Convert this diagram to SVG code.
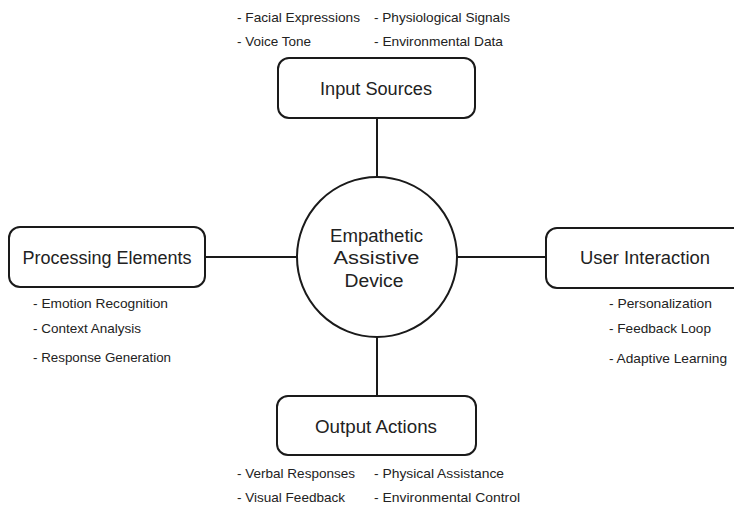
<svg xmlns="http://www.w3.org/2000/svg" width="734" height="506" viewBox="0 0 734 506">
<style>
.box{fill:#fff;stroke:#1a1a1a;stroke-width:2}
.con{stroke:#1a1a1a;stroke-width:2;fill:none}
.lbl{font-family:"Liberation Sans",Arial,sans-serif;font-size:17.5px;fill:#222;text-anchor:middle}
.bul{font-family:"Liberation Sans",Arial,sans-serif;font-size:13px;fill:#222}
</style>
<rect width="734" height="506" fill="#fff"/>
<g id="connectors">
<line class="con" x1="377" y1="118" x2="377" y2="178"/>
<line class="con" x1="377" y1="336" x2="377" y2="396"/>
<line class="con" x1="205" y1="257" x2="297" y2="257"/>
<line class="con" x1="457" y1="257" x2="546" y2="257"/>
</g>
<g id="center">
<circle class="box" cx="377" cy="257" r="80"/>
<text class="lbl" x="376.5" y="242" textLength="93" lengthAdjust="spacingAndGlyphs">Empathetic</text>
<text class="lbl" x="376.5" y="264" textLength="86" lengthAdjust="spacingAndGlyphs">Assistive</text>
<text class="lbl" x="374" y="287" textLength="59" lengthAdjust="spacingAndGlyphs">Device</text>
</g>
<g id="input">
<rect class="box" x="278" y="58" width="197" height="60" rx="11"/>
<text class="lbl" x="376" y="95" textLength="112" lengthAdjust="spacingAndGlyphs">Input Sources</text>
<text class="bul" x="237" y="21.5" textLength="123" lengthAdjust="spacingAndGlyphs">- Facial Expressions</text>
<text class="bul" x="237" y="46" textLength="74" lengthAdjust="spacingAndGlyphs">- Voice Tone</text>
<text class="bul" x="374" y="21.5" textLength="136" lengthAdjust="spacingAndGlyphs">- Physiological Signals</text>
<text class="bul" x="374" y="46" textLength="129" lengthAdjust="spacingAndGlyphs">- Environmental Data</text>
</g>
<g id="processing">
<rect class="box" x="9" y="227" width="196" height="60" rx="11"/>
<text class="lbl" x="107" y="264" textLength="169" lengthAdjust="spacingAndGlyphs">Processing Elements</text>
<text class="bul" x="33" y="307.5" textLength="135" lengthAdjust="spacingAndGlyphs">- Emotion Recognition</text>
<text class="bul" x="33" y="332.5" textLength="108" lengthAdjust="spacingAndGlyphs">- Context Analysis</text>
<text class="bul" x="33" y="361.5" textLength="138" lengthAdjust="spacingAndGlyphs">- Response Generation</text>
</g>
<g id="user">
<rect class="box" x="546" y="228" width="205" height="60" rx="11"/>
<text class="lbl" x="645" y="264" textLength="130" lengthAdjust="spacingAndGlyphs">User Interaction</text>
<text class="bul" x="609" y="307.5" textLength="103" lengthAdjust="spacingAndGlyphs">- Personalization</text>
<text class="bul" x="609" y="332.5" textLength="102" lengthAdjust="spacingAndGlyphs">- Feedback Loop</text>
<text class="bul" x="609" y="362.5" textLength="118" lengthAdjust="spacingAndGlyphs">- Adaptive Learning</text>
</g>
<g id="output">
<rect class="box" x="277" y="396" width="199" height="59" rx="11"/>
<text class="lbl" x="376" y="433" textLength="122" lengthAdjust="spacingAndGlyphs">Output Actions</text>
<text class="bul" x="237" y="477.5" textLength="118" lengthAdjust="spacingAndGlyphs">- Verbal Responses</text>
<text class="bul" x="237" y="501.5" textLength="108" lengthAdjust="spacingAndGlyphs">- Visual Feedback</text>
<text class="bul" x="374" y="477.5" textLength="130" lengthAdjust="spacingAndGlyphs">- Physical Assistance</text>
<text class="bul" x="374" y="501.5" textLength="146" lengthAdjust="spacingAndGlyphs">- Environmental Control</text>
</g>
</svg>
